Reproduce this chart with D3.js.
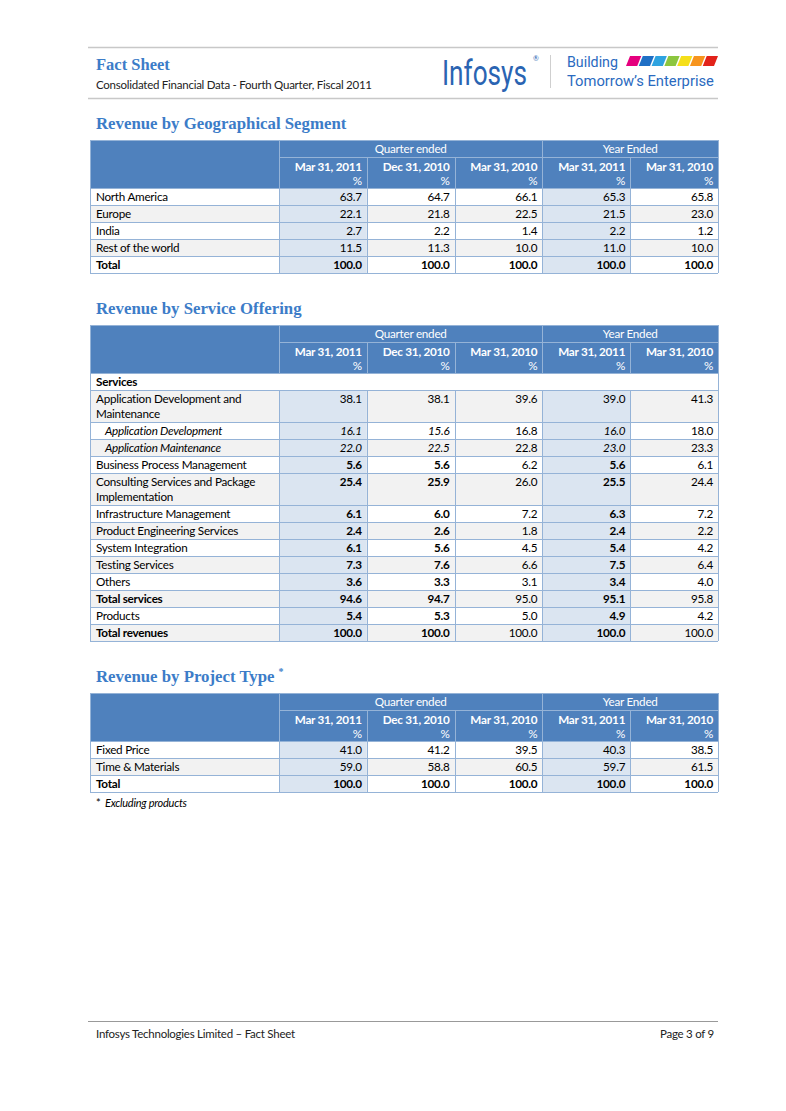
<!DOCTYPE html>
<html>
<head>
<meta charset="utf-8">
<script src="https://cdn.jsdelivr.net/npm/d3@7"></script>
<style>
  body { margin: 0; background: #fff; }
  text { font-family: Lato, "Open Sans", sans-serif; }
</style>
</head>
<body>
<div id="page"></div>
<script>
// Data

var columnKeys = ["qMar11", "qDec10", "qMar10", "yMar11", "yMar10"];
var columnDates = ["Mar 31, 2011", "Dec 31, 2010", "Mar 31, 2010", "Mar 31, 2011", "Mar 31, 2010"];
var periodGroups = ["Quarter ended", "Year Ended"];
var periodSpans = [3, 2];

// Revenue by geographical segment
var geoRegions = ["North America", "Europe", "India", "Rest of the world", "Total"];
var geoQMar11 = [63.7, 22.1, 2.7, 11.5, 100.0];
var geoQDec10 = [64.7, 21.8, 2.2, 11.3, 100.0];
var geoQMar10 = [66.1, 22.5, 1.4, 10.0, 100.0];
var geoYMar11 = [65.3, 21.5, 2.2, 11.0, 100.0];
var geoYMar10 = [65.8, 23.0, 1.2, 10.0, 100.0];

// Revenue by service offering
var serviceLabels = [
  "Application Development and|Maintenance",
  "Application Development",
  "Application Maintenance",
  "Business Process Management",
  "Consulting Services and Package|Implementation",
  "Infrastructure Management",
  "Product Engineering Services",
  "System Integration",
  "Testing Services",
  "Others",
  "Total services",
  "Products",
  "Total revenues"
];
var svcQMar11 = [38.1, 16.1, 22.0, 5.6, 25.4, 6.1, 2.4, 6.1, 7.3, 3.6, 94.6, 5.4, 100.0];
var svcQDec10 = [38.1, 15.6, 22.5, 5.6, 25.9, 6.0, 2.6, 5.6, 7.6, 3.3, 94.7, 5.3, 100.0];
var svcQMar10 = [39.6, 16.8, 22.8, 6.2, 26.0, 7.2, 1.8, 4.5, 6.6, 3.1, 95.0, 5.0, 100.0];
var svcYMar11 = [39.0, 16.0, 23.0, 5.6, 25.5, 6.3, 2.4, 5.4, 7.5, 3.4, 95.1, 4.9, 100.0];
var svcYMar10 = [41.3, 18.0, 23.3, 6.1, 24.4, 7.2, 2.2, 4.2, 6.4, 4.0, 95.8, 4.2, 100.0];

// Revenue by project type
var projectTypes = ["Fixed Price", "Time & Materials", "Total"];
var projQMar11 = [41.0, 59.0, 100.0];
var projQDec10 = [41.2, 58.8, 100.0];
var projQMar10 = [39.5, 60.5, 100.0];
var projYMar11 = [40.3, 59.7, 100.0];
var projYMar10 = [38.5, 61.5, 100.0];

// row formatting (kept apart from the values)
var geoKinds = ["plain", "plain", "plain", "plain", "total"];
var svcKinds = ["plain", "sub", "sub", "emph", "emph", "emph", "emph", "emph", "emph", "emph", "subtotal", "emph", "subtotal"];
var projKinds = ["plain", "plain", "total"];

// page setup
var pageW = 786, pageH = 1111;
var blue = "#4F81BD", lineBlue = "#95B3D7", lightBlue = "#DBE5F1", stripe = "#F2F2F2";
var titleBlue = "#3C7CC8";
var bodySize = "11.7px", bodySpacing = "-0.25px";

var svg = d3.select("#page").append("svg")
  .attr("width", pageW)
  .attr("height", pageH);

svg.append("rect").attr("width", pageW).attr("height", pageH).attr("fill", "#fff");

// column scale shared by all three tables
var left = 90, labelRight = 279, right = 718;
var x = d3.scaleBand().domain(columnKeys).range([labelRight, right]);

// ---- page header ----
svg.append("line").attr("x1", 88).attr("x2", 718).attr("y1", 47.5).attr("y2", 47.5)
  .attr("stroke", "#c8c8c8").attr("stroke-width", 1.5);
svg.append("line").attr("x1", 88).attr("x2", 718).attr("y1", 98.5).attr("y2", 98.5)
  .attr("stroke", "#c8c8c8").attr("stroke-width", 1.5);

svg.append("text").attr("x", 96).attr("y", 70)
  .style("font-family", "'Liberation Serif', serif")
  .style("font-weight", "bold").style("font-size", "16.5px")
  .attr("fill", titleBlue).text("Fact Sheet");
svg.append("text").attr("x", 96).attr("y", 89)
  .style("font-size", "11.5px").style("letter-spacing", bodySpacing).attr("fill", "#222")
  .text("Consolidated Financial Data - Fourth Quarter, Fiscal 2011");

// Infosys logo: squeeze the word with a transform so its box stays true
function squeezed(x0, y0, width, size, label, color) {
  var t = svg.append("text")
    .style("font-family", "'Liberation Sans Narrow', Roboto, sans-serif")
    .style("font-size", size + "px").attr("fill", color)
    .text(label);
  var natural = t.node().getComputedTextLength();
  t.attr("transform", "translate(" + x0 + "," + y0 + ") scale(" + (width / natural) + ",1)");
  return t;
}
squeezed(442, 85, 85, 36, "Infosys", "#2A64B2");
svg.append("text").attr("x", 533).attr("y", 61)
  .style("font-size", "7px").attr("fill", "#2A64B2").text("®");

svg.append("line").attr("x1", 550.5).attr("x2", 550.5).attr("y1", 55).attr("y2", 88)
  .attr("stroke", "#cfcfcf");
squeezed(567, 67, 51, 15, "Building", "#2A6AC0");
squeezed(567, 85.5, 147, 15, "Tomorrow\u2019s Enterprise", "#2A6AC0");

var stripeColors = ["#E5007E", "#1F6FC5", "#2EA3E0", "#8CC63F", "#F5DF1A", "#F7941D", "#E2231A"];
var stripeX = d3.scaleBand().domain(d3.range(stripeColors.length)).range([626, 714]).paddingInner(0.12);
svg.append("g").selectAll("path")
  .data(stripeColors)
  .enter()
  .append("path")
  .attr("d", function(c, i) {
    var x0 = stripeX(i), w = stripeX.bandwidth();
    return "M" + (x0 + 4) + ",56 L" + (x0 + w + 4) + ",56 L" + (x0 + w) + ",66 L" + x0 + ",66 Z";
  })
  .attr("fill", function(c) { return c; });

// ---- footer ----
svg.append("line").attr("x1", 88).attr("x2", 718).attr("y1", 1021.5).attr("y2", 1021.5)
  .attr("stroke", "#999").attr("stroke-width", 1.2);
svg.append("text").attr("x", 96).attr("y", 1038)
  .style("font-size", "11.5px").style("letter-spacing", bodySpacing).attr("fill", "#222")
  .text("Infosys Technologies Limited \u2013 Fact Sheet");
svg.append("text").attr("x", 714).attr("y", 1038)
  .style("font-size", "11.5px").style("letter-spacing", bodySpacing).attr("fill", "#222").attr("text-anchor", "end")
  .text("Page 3 of 9");

// ---- generic table drawing ----
function sectionTitle(y, label, star) {
  var t = svg.append("text").attr("x", 96).attr("y", y)
    .style("font-family", "'Liberation Serif', serif")
    .style("font-weight", "bold").style("font-size", "16.8px")
    .attr("fill", titleBlue).text(label);
  if (star) {
    t.append("tspan").attr("dx", 4).attr("dy", -7).style("font-size", "10px").text("*");
  }
}

function drawTable(top, labels, kinds, cols, opts) {
  opts = opts || {};
  var g = svg.append("g").style("font-size", bodySize).style("letter-spacing", bodySpacing);
  var headTop = top, row1H = 17, row2H = 31;
  var bodyTop = headTop + row1H + row2H;

  // row layout: two-line labels take a taller row
  var rows = labels.map(function(l, i) {
    return {label: l, kind: kinds[i], lines: l.split("|").length,
            values: cols.map(function(c) { return c[i]; })};
  });
  if (opts.groupLabel) {
    rows.unshift({label: opts.groupLabel, kind: "group", lines: 1, values: []});
  }
  var heights = rows.map(function(r) { return r.lines === 1 ? 17 : 32; });
  var offsets = d3.cumsum([0].concat(heights));
  var y = d3.scaleOrdinal().domain(d3.range(rows.length)).range(offsets.map(function(o) { return bodyTop + o; }));
  var bodyBottom = bodyTop + offsets[rows.length];

  // header background
  g.append("rect").attr("x", left).attr("y", headTop)
    .attr("width", right - left).attr("height", row1H + row2H).attr("fill", blue);

  // body rows
  rows.forEach(function(r, i) {
    var ry = y(i), h = heights[i];
    var fill = (i % 2 === 1) ? stripe : "#fff";
    g.append("rect").attr("x", left).attr("y", ry).attr("width", right - left).attr("height", h).attr("fill", fill);
    if (r.kind !== "group") {
      g.selectAll(null).data(["qMar11", "yMar11"]).enter().append("rect")
        .attr("x", function(k) { return x(k); }).attr("y", ry)
        .attr("width", x.bandwidth()).attr("height", h).attr("fill", lightBlue);
    }
  });

  // header texts
  var groupStart = 0;
  periodGroups.forEach(function(name, gi) {
    var k0 = columnKeys[groupStart], k1 = columnKeys[groupStart + periodSpans[gi] - 1];
    var cx = (x(k0) + x(k1) + x.bandwidth()) / 2;
    g.append("text").attr("x", cx).attr("y", headTop + 13)
      .attr("text-anchor", "middle").attr("fill", "#fff")
      .text(name);
    groupStart += periodSpans[gi];
  });
  g.selectAll(null).data(columnKeys).enter().append("text")
    .attr("x", function(k) { return x(k) + x.bandwidth() - 5; })
    .attr("y", headTop + row1H + 14)
    .attr("text-anchor", "end").attr("fill", "#fff")
    .style("font-weight", "bold")
    .text(function(k, i) { return columnDates[i]; });
  g.selectAll(null).data(columnKeys).enter().append("text")
    .attr("x", function(k) { return x(k) + x.bandwidth() - 5; })
    .attr("y", headTop + row1H + 28)
    .attr("text-anchor", "end").attr("fill", "#fff")
    .text("%");

  // grid lines
  var lines = g.append("g").attr("stroke", lineBlue).attr("stroke-width", 1);
  lines.append("line").attr("x1", labelRight).attr("x2", right)
    .attr("y1", headTop + row1H + 0.5).attr("y2", headTop + row1H + 0.5);
  offsets.forEach(function(o) {
    lines.append("line").attr("x1", left).attr("x2", right)
      .attr("y1", bodyTop + o + 0.5).attr("y2", bodyTop + o + 0.5);
  });
  lines.append("line").attr("x1", left).attr("x2", right)
    .attr("y1", headTop + 0.5).attr("y2", headTop + 0.5);
  // vertical lines: inner column lines start below the group header,
  // and the merged group row has only its outer edges
  var vx = [left, labelRight].concat(columnKeys.map(function(k) { return x(k) + x.bandwidth(); }));
  vx.forEach(function(v, vi) {
    var isEdge = (vi === 0 || vi === vx.length - 1);
    var vxp = Math.round(v) + 0.5;
    var segs = [[headTop, bodyTop]];
    if (vi === 2 || vi === 3 || vi === 5) segs = [[headTop + row1H, bodyTop]];
    rows.forEach(function(r, i) {
      if (r.kind === "group" && !isEdge) return;
      segs.push([y(i), y(i) + heights[i]]);
    });
    segs.forEach(function(s) {
      lines.append("line").attr("x1", vxp).attr("x2", vxp).attr("y1", s[0]).attr("y2", s[1]);
    });
  });

  // body texts
  rows.forEach(function(r, i) {
    var ry = y(i);
    var lab = g.append("text")
      .attr("x", r.kind === "sub" ? 105 : 96).attr("y", ry + 13)
      .attr("fill", "#000")
      .style("font-weight", (r.kind === "total" || r.kind === "subtotal" || r.kind === "group") ? "bold" : "normal")
      .style("font-style", r.kind === "sub" ? "italic" : "normal");
    r.label.split("|").forEach(function(part, li) {
      lab.append("tspan").attr("x", r.kind === "sub" ? 105 : 96).attr("dy", li === 0 ? 0 : 15).text(part);
    });

    g.selectAll(null).data(r.values).enter().append("text")
      .attr("x", function(v, ci) { return x(columnKeys[ci]) + x.bandwidth() - 5; })
      .attr("y", ry + 13)
      .attr("text-anchor", "end").attr("fill", "#000")
      .style("font-weight", function(v, ci) {
        var strong = (ci === 0 || ci === 1 || ci === 3);
        if (r.kind === "total") return "bold";
        if ((r.kind === "emph" || r.kind === "subtotal") && strong) return "bold";
        return "normal";
      })
      .style("font-style", function(v, ci) {
        return (r.kind === "sub" && (ci === 0 || ci === 1 || ci === 3)) ? "italic" : "normal";
      })
      .text(function(v) { return d3.format(".1f")(v); });
  });

  return bodyBottom;
}

// ---- three tables ----
sectionTitle(129, "Revenue by Geographical Segment");
drawTable(140, geoRegions, geoKinds, [geoQMar11, geoQDec10, geoQMar10, geoYMar11, geoYMar10]);

sectionTitle(314, "Revenue by Service Offering");
drawTable(325, serviceLabels, svcKinds, [svcQMar11, svcQDec10, svcQMar10, svcYMar11, svcYMar10],
  {groupLabel: "Services"});

sectionTitle(682, "Revenue by Project Type", true);
var projBottom = drawTable(693, projectTypes, projKinds, [projQMar11, projQDec10, projQMar10, projYMar11, projYMar10]);

var foot = svg.append("text").attr("x", 96).attr("y", projBottom + 15)
  .style("font-size", "11px").attr("fill", "#000");
foot.append("tspan").text("*");
foot.append("tspan").attr("x", 105).style("font-style", "italic").style("letter-spacing", bodySpacing)
  .text("Excluding products");
</script>
</body>
</html>
